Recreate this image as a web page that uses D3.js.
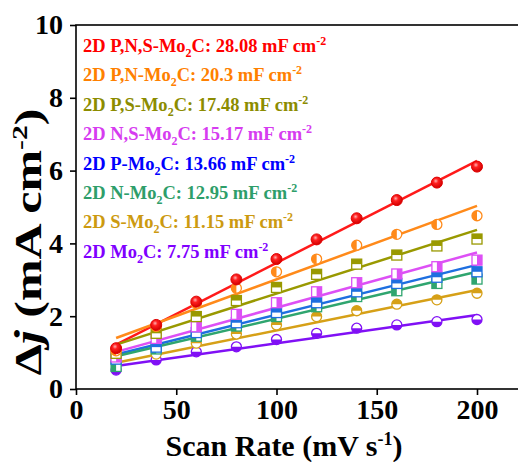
<!DOCTYPE html>
<html>
<head>
<meta charset="utf-8">
<script src="https://cdn.jsdelivr.net/npm/d3@7"></script>
<style>
  body { margin: 0; background: #fff; }
  text { font-family: "Liberation Serif", "Times New Roman", serif; font-weight: bold; }
</style>
</head>
<body>
<div id="chart"></div>
<script>
// scan rates (mV s-1)
var scanRates = [20, 40, 60, 80, 100, 120, 140, 160, 180, 200];

// series names and legend capacitance
var names = ["P,N,S-", "P,N-", "P,S-", "N,S-", "P-", "N-", "S-", ""];
var cdl = ["28.08", "20.3", "17.48", "15.17", "13.66", "12.95", "11.15", "7.75"];

var jPNS = [1.12, 1.76, 2.40, 3.01, 3.57, 4.11, 4.69, 5.19, 5.67, 6.11];
var jPN  = [1.05, 1.72, 2.35, 2.77, 3.22, 3.57, 3.95, 4.25, 4.52, 4.76];
var jPS  = [0.98, 1.53, 1.99, 2.43, 2.79, 3.15, 3.43, 3.68, 3.93, 4.12];
var jNS  = [0.88, 1.39, 1.71, 2.05, 2.37, 2.67, 2.92, 3.16, 3.36, 3.54];
var jP   = [0.82, 1.15, 1.55, 1.82, 2.10, 2.37, 2.67, 2.90, 3.07, 3.22];
var jN   = [0.62, 1.10, 1.45, 1.73, 1.99, 2.26, 2.54, 2.70, 2.90, 3.02];
var jS   = [0.75, 0.96, 1.26, 1.51, 1.76, 1.99, 2.15, 2.33, 2.45, 2.63];
var jMo  = [0.52, 0.80, 1.02, 1.16, 1.36, 1.53, 1.67, 1.76, 1.85, 1.91];

// fitted line ends at 20 and 200 mV s-1
var fitStart = [1.22, 1.40, 1.22, 1.02, 0.95, 0.90, 0.72, 0.63];
var fitEnd   = [6.27, 5.03, 4.37, 3.75, 3.41, 3.22, 2.72, 2.03];

var yTicks = [0, 2, 4, 6, 8, 10];
var xTicks = [0, 50, 100, 150, 200];

var textColors = ["#ff0000", "#ff8000", "#8c8c00", "#d63cf0", "#0000ff", "#2e9e6a", "#cc9a10", "#7f00ff"];
var lineColors = ["#ff1a1a", "#ff8a1a", "#999900", "#dd50f5", "#1e6fe0", "#2fa56f", "#d6a017", "#8010f5"];
var shapes = ["ball", "circleLeft", "squareTop", "squareRight", "squareTop", "squareLeft", "circleTop", "circleBottom"];

var allSeries = [jPNS, jPN, jPS, jNS, jP, jN, jS, jMo];

var width = 518, height = 462;
var margin = {top: 25, right: 0, bottom: 73, left: 76};

var svg = d3.select("#chart")
  .append("svg")
    .attr("width", width)
    .attr("height", height);

var x = d3.scaleLinear().domain([0, 220]).range([margin.left, margin.left + 220 * 2.005]);
var y = d3.scaleLinear().domain([0, 10]).range([389, 25]);

var defs = svg.append("defs");
var grad = defs.append("radialGradient")
    .attr("id", "ball")
    .attr("cx", "40%").attr("cy", "35%").attr("r", "65%");
grad.append("stop").attr("offset", "0%").attr("stop-color", "#ffb0b0");
grad.append("stop").attr("offset", "35%").attr("stop-color", "#ff2020");
grad.append("stop").attr("offset", "100%").attr("stop-color", "#d00000");

// frame
svg.append("rect")
    .attr("x", x(0))
    .attr("y", y(10))
    .attr("width", 600)
    .attr("height", y(0) - y(10))
    .attr("fill", "none")
    .attr("stroke", "#000")
    .attr("stroke-width", 1.6);

// axes
var xAxis = svg.append("g")
    .attr("transform", "translate(0," + y(0) + ")")
    .call(d3.axisBottom(x).tickValues(xTicks).tickSize(6).tickPadding(4));
var yAxis = svg.append("g")
    .attr("transform", "translate(" + x(0) + ",0)")
    .call(d3.axisLeft(y).tickValues(yTicks).tickSize(6).tickPadding(7));

[xAxis, yAxis].forEach(function(a) {
  a.select(".domain").remove();
  a.selectAll("line").attr("stroke", "#000").attr("stroke-width", 1.6);
  a.selectAll("text")
    .attr("fill", "#000")
    .style("font-family", "'Liberation Serif', serif")
    .style("font-weight", "bold")
    .style("font-size", "28px");
});

// axis titles
var xt = svg.append("text")
    .attr("x", 284)
    .attr("y", 456)
    .attr("text-anchor", "middle")
    .style("font-size", "30px");
xt.append("tspan").text("Scan Rate (mV s");
xt.append("tspan").attr("dy", -11).style("font-size", "18px").text("-1");
xt.append("tspan").attr("dy", 11).text(")");

// y title is stretched along its length like the original
var yt = svg.append("text")
    .attr("transform", "translate(41,242) rotate(-90) scale(1.35,1)")
    .attr("text-anchor", "middle")
    .style("font-size", "37px");
yt.append("tspan").text("\u0394");
yt.append("tspan").style("font-style", "italic").text("j");
yt.append("tspan").text(" (mA cm");
yt.append("tspan").attr("dy", -14).style("font-size", "22px").text("-2");
yt.append("tspan").attr("dy", 14).text(")");

// fitted lines
var lines = svg.append("g");
names.forEach(function(n, i) {
  lines.append("line")
    .attr("x1", x(scanRates[0]))
    .attr("y1", y(fitStart[i]))
    .attr("x2", x(scanRates[scanRates.length - 1]))
    .attr("y2", y(fitEnd[i]))
    .attr("stroke", lineColors[i])
    .attr("stroke-width", 2.5);
});

// half-filled marker paths
var r = 5;
function halfPath(shape) {
  if (shape == "circleLeft") return "M0," + (-r) + "A" + r + "," + r + " 0 0 0 0," + r + "Z";
  if (shape == "circleTop") return "M" + (-r) + ",0A" + r + "," + r + " 0 0 1 " + r + ",0Z";
  if (shape == "circleBottom") return "M" + (-r) + ",0A" + r + "," + r + " 0 0 0 " + r + ",0Z";
  if (shape == "squareTop") return "M" + (-r) + "," + (-r) + "H" + r + "V0H" + (-r) + "Z";
  if (shape == "squareLeft") return "M" + (-r) + "," + (-r) + "H0V" + r + "H" + (-r) + "Z";
  if (shape == "squareRight") return "M0," + (-r) + "H" + r + "V" + r + "H0Z";
  return "";
}

// markers, drawn bottom series first so red sits on top
d3.range(allSeries.length - 1, -1, -1).forEach(function(i) {
  var g = svg.append("g");
  var pts = g.selectAll("g")
    .data(allSeries[i])
    .enter()
    .append("g")
      .attr("transform", function(d, k) { return "translate(" + x(scanRates[k]) + "," + y(d) + ")"; });
  var shape = shapes[i];
  if (shape == "ball") {
    pts.append("circle")
      .attr("r", 5.5)
      .attr("fill", "url(#ball)")
      .attr("stroke", "#e00000")
      .attr("stroke-width", 1);
    return;
  }
  if (shape.indexOf("circle") == 0) {
    pts.append("circle").attr("r", r).attr("fill", "#fff");
  } else {
    pts.append("rect").attr("x", -r).attr("y", -r).attr("width", 2 * r).attr("height", 2 * r).attr("fill", "#fff");
  }
  pts.append("path").attr("d", halfPath(shape)).attr("fill", lineColors[i]);
  if (shape.indexOf("circle") == 0) {
    pts.append("circle").attr("r", r).attr("fill", "none").attr("stroke", lineColors[i]).attr("stroke-width", 1.3);
  } else {
    pts.append("rect").attr("x", -r).attr("y", -r).attr("width", 2 * r).attr("height", 2 * r)
      .attr("fill", "none").attr("stroke", lineColors[i]).attr("stroke-width", 1.3);
  }
});

// legend
var legend = svg.append("g");
names.forEach(function(n, i) {
  var t = legend.append("text")
      .attr("x", 83)
      .attr("y", 52 + i * 29.4)
      .attr("fill", textColors[i])
      .style("font-size", "18.5px");
  t.append("tspan").text("2D " + n + "Mo");
  t.append("tspan").attr("dy", 5).style("font-size", "12px").text("2");
  t.append("tspan").attr("dy", -5).text("C: " + cdl[i] + " mF cm");
  t.append("tspan").attr("dy", -7).style("font-size", "12px").text("-2");
});
</script>
</body>
</html>
